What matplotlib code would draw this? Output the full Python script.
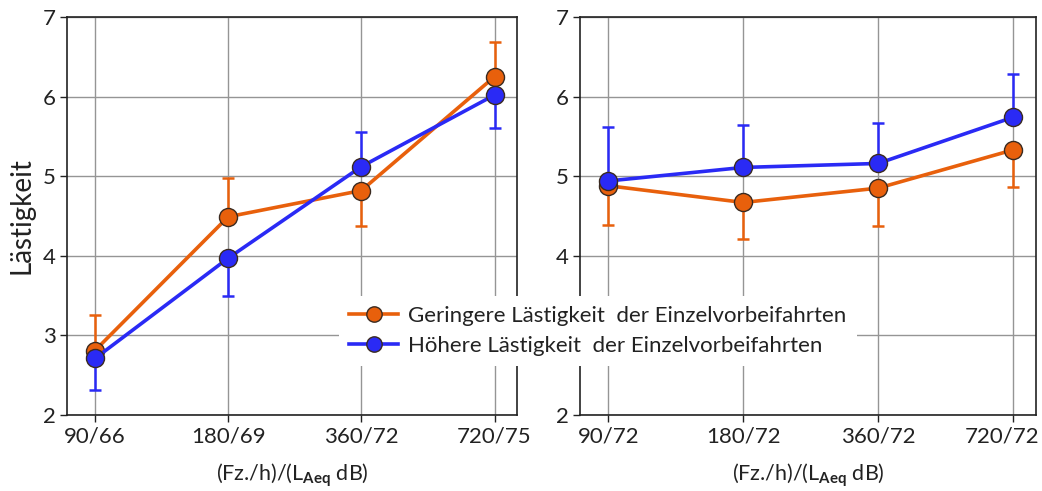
import matplotlib
matplotlib.use("Agg")
import matplotlib.pyplot as plt
from matplotlib.transforms import ScaledTranslation

plt.rcParams['font.family'] = ['Lato', 'DejaVu Sans']
plt.rcParams['mathtext.fontset'] = 'custom'
plt.rcParams['mathtext.rm'] = 'Lato'
plt.rcParams['mathtext.bf'] = 'Lato:bold'

# x categories: vehicles per hour / LAeq
left_labels = ['90/66', '180/69', '360/72', '720/75']
right_labels = ['90/72', '180/72', '360/72', '720/72']

# annoyance means, left panel (level rises with traffic)
left_low = [2.81, 4.49, 4.82, 6.25]
left_low_err_dn = [0.0, 0.0, 0.44, 0.0]
left_low_err_up = [0.44, 0.49, 0.0, 0.44]
left_high = [2.71, 3.97, 5.12, 6.02]
left_high_err_dn = [0.40, 0.47, 0.0, 0.41]
left_high_err_up = [0.0, 0.0, 0.43, 0.0]

# annoyance means, right panel (constant level)
right_low = [4.88, 4.67, 4.85, 5.33]
right_low_err_dn = [0.49, 0.46, 0.47, 0.47]
right_low_err_up = [0.0, 0.0, 0.0, 0.0]
right_high = [4.94, 5.11, 5.16, 5.74]
right_high_err_dn = [0.0, 0.0, 0.0, 0.0]
right_high_err_up = [0.68, 0.53, 0.51, 0.55]

legend_labels = ['Geringere Lästigkeit  der Einzelvorbeifahrten',
                 'Höhere Lästigkeit  der Einzelvorbeifahrten']

orange = '#E8600C'
blue = '#2A2AF5'

fig = plt.figure(figsize=(10.42, 4.91), dpi=100)
ax_l = fig.add_axes([0.0643, 0.1548, 0.432, 0.8106])
ax_r = fig.add_axes([0.5566, 0.1548, 0.4376, 0.8106])


def draw_series(ax, y, dn, up, color, label):
    x = range(len(y))
    ax.errorbar(x, y, yerr=[dn, up], fmt='none', ecolor=color,
                elinewidth=1.8, capsize=4, capthick=1.8, zorder=3)
    line, = ax.plot(x, y, color=color, lw=2.6, marker='o', markersize=13,
                    markerfacecolor=color, markeredgecolor='#3a2a20',
                    markeredgewidth=1.0, zorder=4, label=label)
    return line


def style_axes(ax, labels):
    ax.set_xlim(-0.21, 3.17)
    ax.set_ylim(2, 7)
    ax.set_xticks(range(len(labels)))
    ax.set_xticklabels(labels)
    ax.set_yticks(range(2, 8))
    ax.grid(True, color='#959595', lw=1.0)
    ax.set_axisbelow(True)
    ax.tick_params(axis='both', labelsize=16, colors='#222222', length=5,
                   width=1.0, pad=3)
    for s in ax.spines.values():
        s.set_color('#222222')
        s.set_linewidth(1.2)
    ax.set_xlabel(r'(Fz./h)/(L$_{\mathbf{Aeq}}$ dB)', fontsize=15.5,
                  color='#222222', labelpad=11)


h1 = draw_series(ax_l, left_low, left_low_err_dn, left_low_err_up, orange, legend_labels[0])
h2 = draw_series(ax_l, left_high, left_high_err_dn, left_high_err_up, blue, legend_labels[1])
draw_series(ax_r, right_low, right_low_err_dn, right_low_err_up, orange, legend_labels[0])
draw_series(ax_r, right_high, right_high_err_dn, right_high_err_up, blue, legend_labels[1])

style_axes(ax_l, left_labels)
style_axes(ax_r, right_labels)
ax_l.set_ylabel('Lästigkeit', fontsize=20, color='#222222', labelpad=6)

# keep the last tick label of the right panel inside the figure
last = ax_r.get_xticklabels()[-1]
last.set_horizontalalignment('right')
last.set_transform(last.get_transform() + ScaledTranslation(0.26, 0, fig.dpi_scale_trans))

# the "3" on the right panel sits under the legend box
ax_r.get_yticklabels()[1].set_visible(False)

leg = fig.legend(handles=[h1, h2], labels=legend_labels, loc='center',
                 bbox_to_anchor=(598 / 1042, 1 - 331 / 491), fontsize=16,
                 frameon=True, facecolor='white', edgecolor='none',
                 framealpha=1.0, fancybox=False, handlelength=2.2,
                 handletextpad=0.45, labelspacing=0.45, borderpad=0.45,
                 markerscale=0.85)
for t in leg.get_texts():
    t.set_color('#222222')

fig.savefig('out.png', dpi=100)
